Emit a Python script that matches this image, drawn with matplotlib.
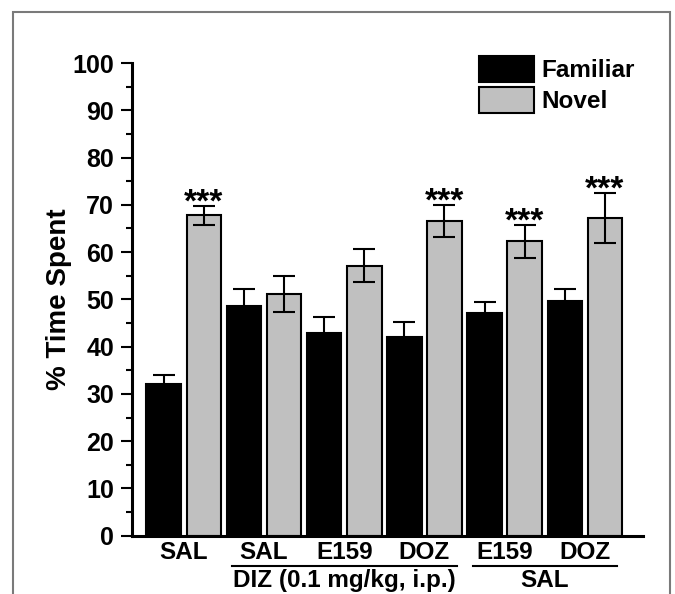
import numpy as np
import matplotlib
matplotlib.use("Agg")
import matplotlib.pyplot as plt
from matplotlib.patches import Rectangle
import matplotlib.transforms as mtrans

# data
groups = ["SAL", "SAL", "E159", "DOZ", "E159", "DOZ"]
familiar = [32.1, 48.7, 42.9, 42.0, 47.2, 49.6]
familiar_err = [1.9, 3.6, 3.4, 3.3, 2.3, 2.7]
novel = [67.8, 51.2, 57.1, 66.6, 62.3, 67.3]
novel_err = [2.0, 3.8, 3.5, 3.4, 3.5, 5.3]
signif = ["***", "", "", "***", "***", "***"]
# second row of labels: (text, first group, last group)
pretreat = [("DIZ (0.1 mg/kg, i.p.)", 1, 3), ("SAL", 4, 5)]

plt.rcParams['font.family'] = ['Liberation Sans', 'DejaVu Sans']
plt.rcParams['font.weight'] = 'bold'

fig = plt.figure(figsize=(6.75, 5.94), dpi=100)
ax = fig.add_axes([0.1956, 0.0981, 0.757, 0.7958])

# outer frame around the whole picture
fig.patches.append(Rectangle((13/675, -0.05), (670-13)/675, 1.05 - 12/594,
                             transform=fig.transFigure, fill=False,
                             edgecolor="#7a7a7a", linewidth=1.5))

x = np.arange(len(groups)) * 2
w = 0.86
ax.bar(x, familiar, width=w, color="black", edgecolor="black", linewidth=1.5,
       label="Familiar", zorder=2)
ax.bar(x + 1, novel, width=w, color="#c0c0c0", edgecolor="black", linewidth=1.5,
       label="Novel", zorder=2)
ax.errorbar(x, familiar, yerr=familiar_err, fmt="none", ecolor="black",
            elinewidth=1.5, capsize=8, capthick=1.5, zorder=3)
ax.errorbar(x + 1, novel, yerr=novel_err, fmt="none", ecolor="black",
            elinewidth=1.5, capsize=8, capthick=1.5, zorder=3)

for i in range(len(groups)):
    if signif[i]:
        ax.annotate(signif[i], (x[i] + 1, novel[i] + novel_err[i]),
                    xytext=(0, -4), textcoords="offset points",
                    ha="center", va="baseline", fontsize=24, fontweight="bold")

ax.set_ylim(0, 100)
ax.set_xlim(-0.79, 11.95)
ax.set_yticks(np.arange(0, 101, 10))
ax.set_yticks(np.arange(5, 100, 10), minor=True)
ax.set_xticks(x + 0.5)
ax.set_xticklabels(groups, fontsize=17.5, fontweight="bold")
ax.tick_params(axis="x", length=0, pad=4)
ax.tick_params(axis="y", which="major", direction="out", length=8, width=1.5,
               labelsize=18, pad=5)
ax.tick_params(axis="y", which="minor", direction="out", length=4, width=1.5)
for lab in ax.get_yticklabels():
    lab.set_fontweight("bold")

ax.spines["top"].set_visible(False)
ax.spines["right"].set_visible(False)
ax.spines["left"].set_linewidth(2.2)
ax.spines["bottom"].set_linewidth(2.2)

ax.set_ylabel("% Time Spent", fontsize=20, fontweight="bold")
ax.yaxis.set_label_coords(-0.117, 0.5)

# underline + pretreatment labels
trans = mtrans.blended_transform_factory(ax.transData, ax.transAxes)
for txt, g0, g1 in pretreat:
    left = x[g0] - 0.3
    right = x[g1] + 1 + 0.3
    ax.plot([left, right], [-0.064, -0.064], color="black", linewidth=1.5,
            transform=trans, clip_on=False)
    ax.text((left + right) / 2, -0.109, txt, transform=trans, ha="center",
            va="baseline", fontsize=17.5, fontweight="bold")

leg = ax.legend(loc="upper left", bbox_to_anchor=(479/675, 1 - 56/594),
                bbox_transform=fig.transFigure, frameon=False, borderpad=0,
                borderaxespad=0, handlelength=2.26, handleheight=1.25,
                handletextpad=0.3, labelspacing=0.22,
                prop={"size": 17.5, "weight": "bold"})

fig.savefig("out.png", dpi=100)
